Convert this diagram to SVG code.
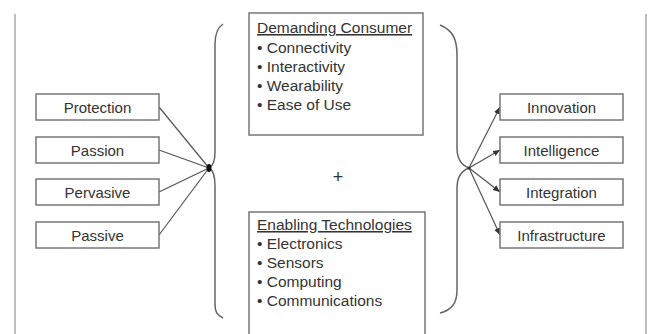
<svg xmlns="http://www.w3.org/2000/svg" width="649" height="334" viewBox="0 0 649 334">
<defs>
<style>
.box{fill:#fff;stroke:#777;stroke-width:1.5}
.lbl{font-family:"Liberation Sans",Arial,sans-serif;font-size:15px;fill:#333;text-anchor:middle}
.txt{font-family:"Liberation Sans",Arial,sans-serif;font-size:15.5px;fill:#333}
.ln{stroke:#555;stroke-width:1.2;fill:none}
.br{stroke:#666;stroke-width:1.5;fill:none}
</style>
<marker id="ah" markerWidth="8" markerHeight="8" refX="7" refY="4" orient="auto" markerUnits="userSpaceOnUse">
<path d="M0,1 L7,4 L0,7 Z" fill="#333"/>
</marker>
</defs>
<rect width="649" height="334" fill="#fff"/>
<line x1="15" y1="14" x2="15" y2="334" stroke="#aaa" stroke-width="1.5"/>
<line x1="646" y1="14" x2="646" y2="334" stroke="#aaa" stroke-width="1.5"/>

<g id="braces">
<path class="br" d="M223,24 C217,28 215,34 215,44 L215,152 C215,161 213,166 209,168 C213,170 215,176 215,186 L215,304 C215,312 217,315 223,318"/>
<path class="br" d="M440,25 C452,30 457,38 457,55 L457,148 C457,158 461,165 469,168 C461,171 457,178 457,188 L457,290 C457,303 452,310 440,313"/>
</g>

<g id="connectors">
<line class="ln" x1="159" y1="107" x2="209" y2="168"/>
<line class="ln" x1="159" y1="150" x2="209" y2="168"/>
<line class="ln" x1="159" y1="192" x2="209" y2="168"/>
<line class="ln" x1="159" y1="235" x2="209" y2="168"/>
<ellipse cx="209" cy="168" rx="2.5" ry="4" fill="#111"/>
<line class="ln" x1="469" y1="168" x2="500" y2="107" marker-end="url(#ah)"/>
<line class="ln" x1="469" y1="168" x2="500" y2="150" marker-end="url(#ah)"/>
<line class="ln" x1="469" y1="168" x2="500" y2="192" marker-end="url(#ah)"/>
<line class="ln" x1="469" y1="168" x2="500" y2="235" marker-end="url(#ah)"/>
<circle cx="469" cy="168" r="1.5" fill="#333"/>
</g>

<g id="protection"><rect class="box" x="36" y="94" width="123" height="26"/><text class="lbl" x="97.5" y="112.5">Protection</text></g>
<g id="passion"><rect class="box" x="36" y="137" width="123" height="26"/><text class="lbl" x="97.5" y="155.5">Passion</text></g>
<g id="pervasive"><rect class="box" x="36" y="179" width="123" height="26"/><text class="lbl" x="97.5" y="197.5">Pervasive</text></g>
<g id="passive"><rect class="box" x="36" y="222" width="123" height="26"/><text class="lbl" x="97.5" y="240.5">Passive</text></g>

<g id="innovation"><rect class="box" x="500" y="94" width="123" height="26"/><text class="lbl" x="561.5" y="112.5">Innovation</text></g>
<g id="intelligence"><rect class="box" x="500" y="137" width="123" height="26"/><text class="lbl" x="561.5" y="155.5">Intelligence</text></g>
<g id="integration"><rect class="box" x="500" y="179" width="123" height="26"/><text class="lbl" x="561.5" y="197.5">Integration</text></g>
<g id="infrastructure"><rect class="box" x="500" y="222" width="123" height="26"/><text class="lbl" x="561.5" y="240.5">Infrastructure</text></g>

<g id="demanding-consumer">
<rect class="box" x="249" y="13" width="174" height="122"/>
<text class="txt" x="257" y="33" text-decoration="underline">Demanding Consumer</text>
<text class="txt" x="257" y="53">• Connectivity</text>
<text class="txt" x="257" y="72">• Interactivity</text>
<text class="txt" x="257" y="91">• Wearability</text>
<text class="txt" x="257" y="110">• Ease of Use</text>
</g>

<text class="lbl" x="338" y="183" style="font-size:18px">+</text>

<g id="enabling-technologies">
<rect class="box" x="249" y="212" width="176" height="130"/>
<text class="txt" x="257" y="230" text-decoration="underline">Enabling Technologies</text>
<text class="txt" x="257" y="249">• Electronics</text>
<text class="txt" x="257" y="268">• Sensors</text>
<text class="txt" x="257" y="287">• Computing</text>
<text class="txt" x="257" y="306">• Communications</text>
</g>
</svg>
